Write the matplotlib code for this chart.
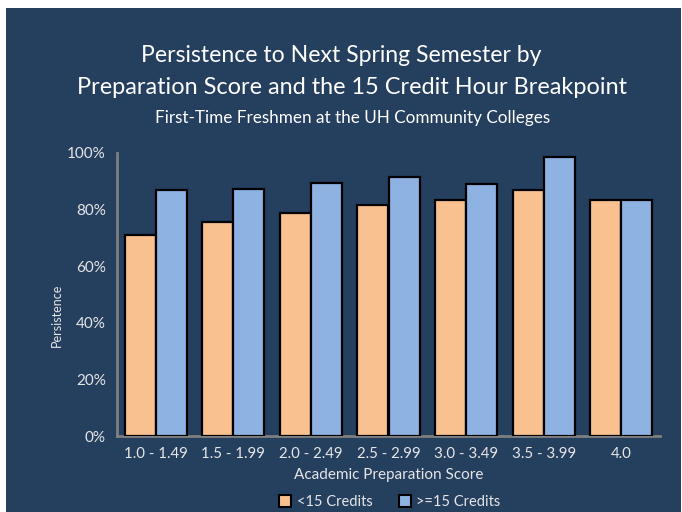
import matplotlib
matplotlib.use("Agg")
import matplotlib.pyplot as plt
from matplotlib.patches import Rectangle, Patch
import numpy as np

categories = ["1.0 - 1.49", "1.5 - 1.99", "2.0 - 2.49", "2.5 - 2.99",
              "3.0 - 3.49", "3.5 - 3.99", "4.0"]
under15 = [0.71, 0.757, 0.787, 0.816, 0.834, 0.869, 0.834]
over15 = [0.869, 0.874, 0.893, 0.914, 0.890, 0.985, 0.834]
yticks = [0, 0.2, 0.4, 0.6, 0.8, 1.0]
ytick_labels = ["0%", "20%", "40%", "60%", "80%", "100%"]

BG = "#253F5F"
ORANGE = "#F9C18F"
BLUE = "#8EB3E2"
TXT = "#E6E6E6"
FONT = ["Lato", "DejaVu Sans"]

W, H = 682, 512
fig = plt.figure(figsize=(W / 100, H / 100), dpi=100, facecolor="white")
fig.patches.append(Rectangle((6 / W, 0), 1 - 7 / W, 1 - 8 / H,
                             transform=fig.transFigure, facecolor=BG,
                             edgecolor="none", zorder=-10))

ax = fig.add_axes([117 / W, 1 - 436 / H, (660 - 117) / W, (436 - 153) / H])
ax.set_facecolor("none")
x = np.arange(len(categories))
w = 0.4
ax.bar(x - w / 2, under15, w, color=ORANGE, edgecolor="black", linewidth=1.6,
       label="<15 Credits", zorder=3)
ax.bar(x + w / 2, over15, w, color=BLUE, edgecolor="black", linewidth=1.6,
       label=">=15 Credits", zorder=3)
ax.set_xlim(-0.5, len(categories) - 0.5)
ax.set_ylim(0, 1.0)
ax.set_yticks(yticks)
ax.set_yticklabels(ytick_labels, fontfamily=FONT, fontsize=11, color=TXT)
ax.set_xticks(x)
ax.set_xticklabels(categories, fontfamily=FONT, fontsize=10.8, color=TXT)
ax.tick_params(axis="both", length=0, pad=8)
for s in ["top", "right"]:
    ax.spines[s].set_visible(False)
for s in ["left", "bottom"]:
    ax.spines[s].set_color("#7F7F7F")
    ax.spines[s].set_linewidth(2)
ax.spines["left"].set_bounds(0, 1.0)

ax.set_xlabel("Academic Preparation Score", fontfamily=FONT, fontsize=11,
              color=TXT, labelpad=5)

fig.text(57 / W, 1 - 315 / H, "Persistence", rotation=90, ha="center",
         va="center", fontfamily=FONT, fontsize=9, color=TXT)

fig.text(341 / W, 1 - 55 / H, "Persistence to Next Spring Semester by",
         ha="center", va="center", fontfamily=FONT, fontsize=16.6, color="white")
fig.text(352 / W, 1 - 87 / H, "Preparation Score and the 15 Credit Hour Breakpoint",
         ha="center", va="center", fontfamily=FONT, fontsize=16.9, color="white")
fig.text(353 / W, 1 - 118 / H, "First-Time Freshmen at the UH Community Colleges",
         ha="center", va="center", fontfamily=FONT, fontsize=12.3, color="white")

handles = [Patch(facecolor=ORANGE, edgecolor="black", linewidth=1.5, label="<15 Credits"),
           Patch(facecolor=BLUE, edgecolor="black", linewidth=1.5, label=">=15 Credits")]
leg = fig.legend(handles=handles, loc="center", bbox_to_anchor=(390 / W, 1 - 502 / H),
                 ncol=2, frameon=False, handlelength=0.8, handleheight=0.8,
                 handletextpad=0.4, columnspacing=1.8,
                 prop={"family": FONT, "size": 10.5})
for t in leg.get_texts():
    t.set_color(TXT)

fig.savefig("out.png", dpi=100, facecolor="white")
